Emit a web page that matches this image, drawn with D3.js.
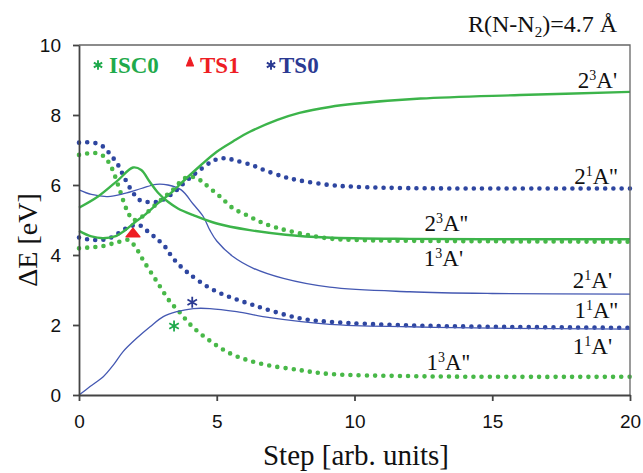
<!DOCTYPE html>
<html>
<head>
<meta charset="utf-8">
<script src="https://cdn.jsdelivr.net/npm/d3@7"></script>
<style>
  body { margin: 0; background: #fff; }
  svg { display: block; }
</style>
</head>
<body>
<svg id="chart" width="643" height="473"></svg>
<script>
// energies along the path, [step, dE in eV]
var s23Ap = [[0,4.69],[0.45,4.53],[0.87,4.48],[1.3,4.53],[1.66,4.7],[2.02,4.93],[2.38,5.14],[2.87,5.48],[3.35,5.78],[3.84,6.15],[4.4,6.55],[5.0,6.95],[5.6,7.25],[6.2,7.52],[7.2,7.86],[8.0,8.06],[9.1,8.23],[10,8.32],[12.4,8.47],[16,8.57],[20,8.66]];
var s13Ap = [[0,5.35],[0.69,5.67],[1.42,6.14],[1.96,6.5],[2.26,6.43],[2.56,6.1],[2.87,5.78],[3.23,5.52],[3.59,5.33],[4.15,5.14],[5.0,4.9],[6.2,4.71],[7.5,4.58],[9,4.5],[12,4.46],[16,4.45],[20,4.45]];
var s21Ap = [[0,5.86],[0.45,5.73],[1.05,5.67],[1.66,5.76],[2.26,5.9],[2.8,6.02],[3.23,6.0],[3.71,5.86],[4.15,5.45],[4.51,5.1],[4.75,4.71],[5.0,4.4],[5.6,3.95],[6.33,3.62],[7.42,3.33],[9.1,3.08],[12,2.95],[15,2.9],[20,2.88]];
var s11Ap = [[0,0],[0.4,0.24],[0.88,0.52],[1.25,0.86],[1.6,1.24],[2.09,1.62],[2.58,1.95],[3.06,2.24],[3.55,2.38],[4.15,2.47],[4.75,2.47],[5.72,2.38],[6.93,2.21],[9.1,2.02],[12,1.95],[15,1.91],[20,1.88]];
var s21App = [[0,7.21],[0.3,7.22],[0.63,7.19],[0.87,7.1],[1.11,6.9],[1.42,6.57],[1.66,6.19],[1.96,5.78],[2.2,5.57],[2.45,5.52],[2.75,5.51],[3.0,5.56],[3.24,5.67],[3.48,5.81],[3.73,6.0],[4.05,6.22],[4.39,6.43],[4.82,6.67],[5.12,6.76],[5.42,6.75],[5.72,6.69],[6.27,6.57],[6.81,6.4],[7.5,6.22],[8.0,6.13],[9.1,6.0],[10,5.95],[12,5.91],[15,5.9],[20,5.9]];
var s11App = [[0,4.5],[0.3,4.45],[0.6,4.43],[0.9,4.44],[1.23,4.52],[1.6,4.71],[1.9,4.83],[2.2,4.85],[2.44,4.71],[2.69,4.55],[2.87,4.43],[3.11,4.25],[3.42,3.9],[3.91,3.52],[4.88,3.0],[6.33,2.57],[8.02,2.19],[9.1,2.09],[12,1.99],[15,1.95],[20,1.92]];
var s23App = [[0,6.86],[0.3,6.9],[0.62,6.91],[0.9,6.82],[1.15,6.55],[1.47,5.88],[1.66,5.43],[1.8,5.18],[1.96,5.0],[2.2,5.05],[2.45,5.2],[2.7,5.38],[3.12,5.67],[3.42,5.87],[3.67,6.08],[3.91,6.22],[4.15,6.23],[4.45,6.11],[4.69,5.95],[5.12,5.67],[5.6,5.33],[6.09,5.14],[6.57,4.95],[7.05,4.81],[7.66,4.68],[8.99,4.48],[10,4.43],[13,4.4],[20,4.38]];
var s13App = [[0,4.19],[0.3,4.21],[0.62,4.23],[0.9,4.26],[1.23,4.33],[1.47,4.38],[1.79,4.43],[2.03,4.25],[2.33,3.85],[2.82,3.25],[3.3,2.67],[3.67,2.35],[4.03,2.02],[4.51,1.69],[5.48,1.19],[6.57,0.9],[8.02,0.71],[9.1,0.6],[12,0.54],[15,0.52],[20,0.52]];

// marked points
var ts1 = [1.96, 4.6];
var isc0 = [3.45, 1.97];
var ts0 = [4.11, 2.65];

var xTicks = [0, 5, 10, 15, 20];
var yTicks = [0, 2, 4, 6, 8, 10];

// state labels: text parts, right end / baseline in data units
var stateLabels = [
  {n: "2", s: "3", t: "A'", x: 19.53, y: 8.77},
  {n: "2", s: "1", t: "A''", x: 19.55, y: 6.02},
  {n: "2", s: "3", t: "A''", x: 14.12, y: 4.69},
  {n: "1", s: "3", t: "A'", x: 13.94, y: 3.69},
  {n: "2", s: "1", t: "A'", x: 19.35, y: 3.06},
  {n: "1", s: "1", t: "A''", x: 19.56, y: 2.2},
  {n: "1", s: "1", t: "A'", x: 19.35, y: 1.17},
  {n: "1", s: "3", t: "A''", x: 14.19, y: 0.71}
];

var green = "#3cb44a", greenDot = "#48b848", blue = "#4458b2", blueDot = "#2e46a0", red = "#ee1d24";
var serif = "'Liberation Serif', 'Times New Roman', serif";
var sans = "'Liberation Sans', Arial, sans-serif";

var svg = d3.select("#chart");
var x = d3.scaleLinear().domain([0, 20]).range([79, 630]);
var y = d3.scaleLinear().domain([0, 10]).range([395, 45]);

var line = d3.line()
    .x(function (d) { return x(d[0]); })
    .y(function (d) { return y(d[1]); })
    .curve(d3.curveCatmullRom.alpha(0.5));

var series = [
  {d: s13App, c: greenDot, w: 4.6, dot: true},
  {d: s23App, c: greenDot, w: 4.6, dot: true},
  {d: s11App, c: blueDot, w: 4.6, dot: true},
  {d: s21App, c: blueDot, w: 4.6, dot: true},
  {d: s11Ap, c: blue, w: 1.3},
  {d: s21Ap, c: blue, w: 1.3},
  {d: s13Ap, c: green, w: 2.4},
  {d: s23Ap, c: green, w: 2.4}
];

svg.append("g").selectAll("path")
    .data(series)
    .enter().append("path")
    .attr("d", function (d) { return line(d.d); })
    .attr("fill", "none")
    .attr("stroke", function (d) { return d.c; })
    .attr("stroke-width", function (d) { return d.w; })
    .attr("stroke-linecap", function (d) { return d.dot ? "round" : "butt"; })
    .attr("stroke-dasharray", function (d) { return d.dot ? "0,8.2" : null; });

// frame
svg.append("path")
    .attr("d", "M" + x(0) + "," + y(10) + "H" + x(20) + "V" + y(0))
    .attr("fill", "none")
    .attr("stroke", "#666")
    .attr("stroke-width", 1.3);

var yAxis = svg.append("g")
    .attr("transform", "translate(" + x(0) + ",0)")
    .call(d3.axisLeft(y).tickValues(yTicks).tickSize(6).tickPadding(12).tickSizeOuter(0));
var xAxis = svg.append("g")
    .attr("transform", "translate(0," + y(0) + ")")
    .call(d3.axisBottom(x).tickValues(xTicks).tickSize(6).tickPadding(14).tickSizeOuter(0));

[xAxis, yAxis].forEach(function (a) {
  a.selectAll("path, line").attr("stroke", "#444").attr("stroke-width", 1.8);
  a.selectAll("text")
      .attr("fill", "#111")
      .style("font-family", sans)
      .style("font-size", "19px");
});

// markers
var sym = d3.symbol();
svg.append("path")
    .attr("transform", "translate(" + x(ts1[0]) + "," + y(ts1[1]) + ") scale(1.15,0.85)")
    .attr("d", sym.type(d3.symbolTriangle).size(60)())
    .attr("fill", red)
    .attr("stroke", red)
    .attr("stroke-width", 1.5)
    .attr("stroke-linejoin", "round");
[[isc0, "#1faa4c"], [ts0, "#2b3a92"]].forEach(function (m) {
  svg.append("path")
      .attr("transform", "translate(" + x(m[0][0]) + "," + y(m[0][1]) + ")")
      .attr("d", sym.type(d3.symbolAsterisk).size(85)())
      .attr("fill", "none")
      .attr("stroke", m[1])
      .attr("stroke-width", 1.8);
});

// legend
var legend = [
  {t: "ISC0", c: "#1faa4c", m: "star", x: 98, tx: 109},
  {t: "TS1", c: red, m: "tri", x: 190, tx: 200},
  {t: "TS0", c: "#2b3a92", m: "star", x: 271, tx: 279}
];
legend.forEach(function (l) {
  if (l.m === "tri") {
    svg.append("path")
        .attr("transform", "translate(" + l.x + ",63) scale(0.85,1.2)")
        .attr("d", sym.type(d3.symbolTriangle).size(30)())
        .attr("fill", l.c).attr("stroke", l.c).attr("stroke-width", 1.2).attr("stroke-linejoin", "round");
  } else {
    svg.append("path")
        .attr("transform", "translate(" + l.x + ",65)")
        .attr("d", sym.type(d3.symbolAsterisk).size(65)())
        .attr("fill", "none").attr("stroke", l.c).attr("stroke-width", 1.9);
  }
  svg.append("text")
      .attr("x", l.tx).attr("y", 73)
      .attr("fill", l.c)
      .style("font-family", serif)
      .style("font-weight", "bold")
      .style("font-size", "23px")
      .text(l.t);
});

// state labels
stateLabels.forEach(function (l) {
  var t = svg.append("text")
      .attr("x", x(l.x)).attr("y", y(l.y))
      .attr("text-anchor", "end")
      .attr("fill", "#111")
      .style("font-family", serif)
      .style("font-size", "23px");
  t.append("tspan").text(l.n);
  t.append("tspan").attr("dy", -8).style("font-size", "14px").text(l.s);
  t.append("tspan").attr("dy", 8).text(l.t);
});

// title
var title = svg.append("text")
    .attr("x", 617).attr("y", 32)
    .attr("text-anchor", "end")
    .attr("fill", "#111")
    .style("font-family", serif)
    .style("font-size", "24px");
title.append("tspan").text("R(N-N");
title.append("tspan").attr("dy", 5).style("font-size", "15px").text("2");
title.append("tspan").attr("dy", -5).text(")=4.7 Å");

// axis titles
svg.append("text")
    .attr("x", 356).attr("y", 465)
    .attr("text-anchor", "middle")
    .attr("fill", "#111")
    .style("font-family", serif)
    .style("font-size", "29px")
    .text("Step [arb. units]");
svg.append("text")
    .attr("transform", "translate(37,240) rotate(-90)")
    .attr("text-anchor", "middle")
    .attr("fill", "#111")
    .style("font-family", serif)
    .style("font-size", "28px")
    .text("ΔE [eV]");
</script>
</body>
</html>
